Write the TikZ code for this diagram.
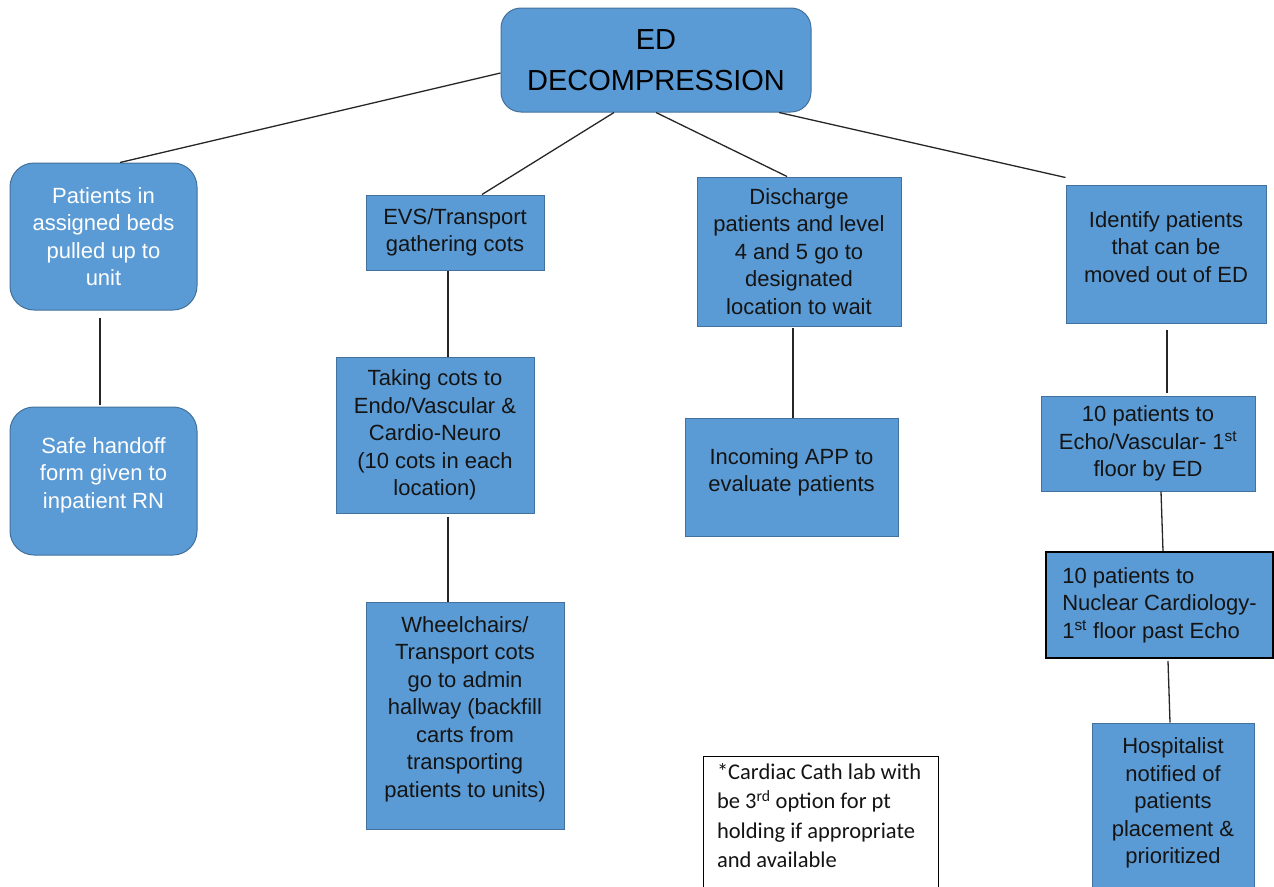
\documentclass[tikz,border=0pt]{standalone}
\usepackage{fontspec}
\setmainfont{Liberation Sans}
\newfontfamily\calib{Carlito}
\usetikzlibrary{calc}
\definecolor{boxfill}{HTML}{5B9BD5}
\definecolor{boxline}{HTML}{41719C}
\definecolor{wirecol}{HTML}{262626}
\definecolor{inktext}{HTML}{141414}
\begin{document}
\begin{tikzpicture}[x=1pt,y=-1pt,
  box/.style={draw=boxline, line width=1pt, fill=boxfill, align=center, inner sep=2pt,
              font=\fontsize{22}{27.5}\selectfont, text=inktext},
  rbox/.style={box, rounded corners=24pt, text=white},
  titlebox/.style={box, rounded corners=20pt, font=\fontsize{29}{41}\selectfont, text=black},
  darkbox/.style={box, draw=black, line width=2pt, align=left},
  notebox/.style={draw=black, line width=1pt, fill=white, inner xsep=13.5pt, inner ysep=7pt,
                  font=\calib\fontsize{22.5}{29.5}\selectfont, text=inktext},
  wire/.style={draw=wirecol, line width=1.3pt}]
\useasboundingbox (0,0) rectangle (1274,886);
\clip (0,0) rectangle (1274,886);

% nodes
\node[titlebox, minimum width=310pt, minimum height=104pt] (ed) at (656,60) {ED\\DECOMPRESSION};

\node[rbox, minimum width=187pt, minimum height=147pt] (p1) at (103.5,236.5)
  {Patients in\\assigned beds\\pulled up to\\unit};
\node[rbox, minimum width=187pt, minimum height=148pt] (p2) at (103.5,481)
  {Safe handoff\\form given to\\inpatient RN\\[-11.5pt]};

\node[box, minimum width=178pt, minimum height=75pt] (evs) at (455,232.5)
  {EVS/Transport\\gathering cots};
\node[box, minimum width=198pt, minimum height=156pt] (take) at (435,435)
  {Taking cots to\\Endo/Vascular \&\\Cardio-Neuro\\(10 cots in each\\location)};
\node[box, minimum width=198pt, minimum height=227pt] (wheel) at (465,715.5)
  {Wheelchairs/\\Transport cots\\go to admin\\hallway (backfill\\carts from\\transporting\\patients to units)\\[-10.5pt]};

\node[box, minimum width=204pt, minimum height=149pt] (dis) at (799,251.5)
  {Discharge\\patients and level\\4 and 5 go to\\designated\\location to wait};
\node[box, minimum width=213pt, minimum height=118pt] (inc) at (791.5,477)
  {Incoming APP to\\evaluate patients\\[-13.5pt]};

\node[box, minimum width=200pt, minimum height=138pt] (idf) at (1166,254)
  {Identify patients\\that can be\\moved out of ED\\[-13.5pt]};
\node[box, minimum width=214pt, minimum height=95pt] (echo) at (1148,443.5)
  {10 patients to\\Echo/Vascular- 1\textsuperscript{st}\\floor by ED};
\node[darkbox, minimum width=227pt, minimum height=106pt] (nuc) at (1159.5,605)
  {10 patients to\\Nuclear Cardiology-\\1\textsuperscript{st} floor past Echo};
\node[box, minimum width=162pt, minimum height=168pt] (hosp) at (1173,807)
  {Hospitalist\\notified of\\patients\\placement \&\\prioritized\\[-15.5pt]};

\node[notebox, anchor=north west] (note) at (703,756)
  {\begin{minipage}[t][120pt][t]{207.5pt}\raggedright
   *Cardiac Cath lab with\\
   be 3\textsuperscript{rd} option for pt\\
   holding if appropriate\\
   and available
   \end{minipage}};

% connectors
\draw[wire] ($(ed.west)+(0,13)$) -- ($(p1.north)+(16.5,0)$);
\draw[wire] ($(ed.south)+(-42,0)$) -- ($(evs.north)+(27,0)$);
\draw[wire] (ed.south) -- ($(dis.north)+(-12,0)$);
\draw[wire] ($(ed.south)+(123,0)$) -- ($(idf.north west)+(0,-7)$);

\draw[wire] ($(p1.south)+(-3.5,7)$) -- ($(p2.north)+(-3.5,-2)$);
\draw[wire] ($(evs.south)+(-7,0)$) -- ($(take.north)+(13,0)$);
\draw[wire] ($(take.south)+(13,3)$) -- ($(wheel.north)+(-17,0)$);
\draw[wire] ($(dis.south)+(-6,1)$) -- ($(inc.north)+(1.5,0)$);
\draw[wire] ($(idf.south)+(1,6)$) -- ($(echo.north)+(19,-3)$);
\draw[wire] ($(echo.south)+(13,0)$) -- ($(nuc.north)+(3.5,0)$);
\draw[wire] ($(nuc.south)+(8.5,2)$) -- ($(hosp.north)+(-3,0)$);
\end{tikzpicture}
\end{document}
